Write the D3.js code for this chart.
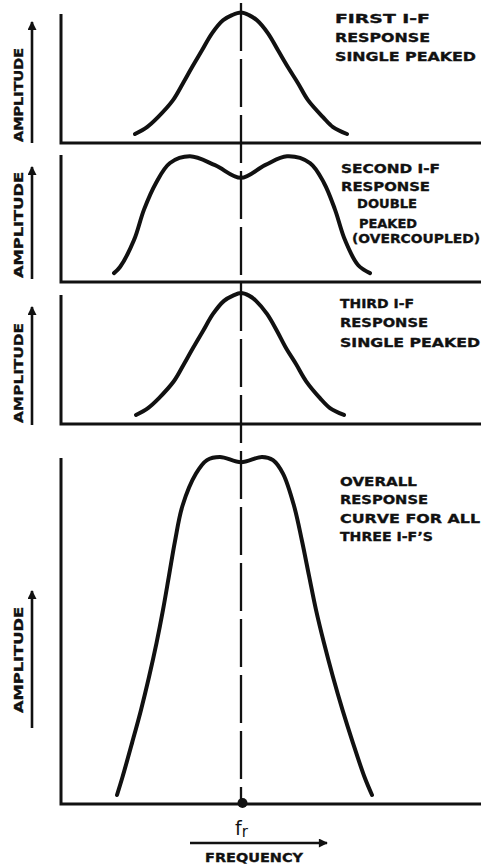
<!DOCTYPE html>
<html>
<head>
<meta charset="utf-8">
<script src="https://cdn.jsdelivr.net/npm/d3@7/dist/d3.min.js"></script>
<style>
  html, body { margin: 0; padding: 0; background: #fff; }
  svg { display: block; }
  text { font-family: "DejaVu Sans", sans-serif; font-weight: bold; fill: #111; }
</style>
</head>
<body>
<svg id="chart" width="482" height="868"></svg>
<script>
// ---- DATA (frequency offset from f_r, relative amplitude) ----
const freq1 = [-10.6, -9.4, -8.3, -6.8, -5.8, -4.9, -3.9, -2.9, -1.8, -0.9, 0, 0.8, 1.6, 2.7, 3.7, 4.7, 5.7, 6.7, 8.2, 9.2, 10.6];
const amp1  = [0.069, 0.122, 0.198, 0.328, 0.458, 0.58, 0.71, 0.84, 0.94, 0.98, 1.0, 0.98, 0.94, 0.84, 0.71, 0.58, 0.458, 0.328, 0.198, 0.122, 0.069];

const freq2 = [-12.7, -12.1, -10.7, -9.7, -8.5, -7.1, -5.1, -2.6, 0, 2.4, 4.6, 6.9, 8.3, 9.4, 10.4, 11.7, 12.9];
const amp2  = [0.07, 0.118, 0.33, 0.57, 0.78, 0.937, 0.99, 0.92, 0.82, 0.92, 0.99, 0.937, 0.78, 0.57, 0.33, 0.134, 0.07];

const freq3 = [-10.5, -9.3, -8.2, -6.7, -5.7, -4.8, -3.8, -2.8, -1.7, -0.8, 0, 0.8, 1.5, 2.6, 3.6, 4.5, 5.5, 6.5, 7.9, 8.9, 10.3];
const amp3  = [0.069, 0.122, 0.198, 0.328, 0.458, 0.58, 0.71, 0.84, 0.94, 0.98, 1.0, 0.98, 0.94, 0.84, 0.71, 0.58, 0.458, 0.328, 0.198, 0.122, 0.069];

const freq4 = [-12.4, -11.85, -10.9, -10.0, -9.2, -8.45, -7.8, -7.2, -6.6, -5.85, -4.5, -3.4, -2.1, 0, 2.1, 3.2, 4.2, 5.3, 6.1, 6.8, 7.5, 8.3, 9.2, 10.15, 11.2, 12.35, 13.1];
const amp4  = [0.026, 0.078, 0.176, 0.272, 0.367, 0.465, 0.561, 0.66, 0.76, 0.862, 0.955, 0.994, 1.003, 0.988, 1.003, 0.994, 0.955, 0.862, 0.76, 0.66, 0.561, 0.465, 0.367, 0.272, 0.176, 0.078, 0.026];

const titles = [
  ["FIRST I-F", "RESPONSE", "SINGLE PEAKED"],
  ["SECOND I-F", "RESPONSE", "DOUBLE", "PEAKED", "(OVERCOUPLED)"],
  ["THIRD I-F", "RESPONSE", "SINGLE PEAKED"],
  ["OVERALL", "RESPONSE", "CURVE FOR ALL", "THREE I-F\u2019S"]
];
const yAxisLabel = "AMPLITUDE";
const xAxisLabel = "FREQUENCY";
const centerLabel = ["f", "r"];
const freqDomain = [-18, 24];

// ---- LAYOUT ----
const layout = [
  { bottom: 143, top: 12.5, axisTop: 14,
    label: { y0: 142, len: 94 }, arrow: { y0: 143, y1: 22 },
    lines: [{x:335,y:23,w:95},{x:335,y:42,w:95},{x:335,y:61,w:141}] },
  { bottom: 282, top: 155, axisTop: 155,
    label: { y0: 278, len: 106 }, arrow: { y0: 279, y1: 167 },
    lines: [{x:341,y:173,w:99},{x:341,y:191,w:89},{x:357,y:208,w:60},{x:359,y:228,w:58},{x:352,y:243,w:128}] },
  { bottom: 424, top: 293, axisTop: 295,
    label: { y0: 423, len: 100 }, arrow: { y0: 425, y1: 307 },
    lines: [{x:340,y:308,w:74},{x:340,y:327,w:88},{x:340,y:347,w:140}] },
  { bottom: 804, top: 458, axisTop: 458,
    label: { y0: 713, len: 106 }, arrow: { y0: 728, y1: 591 },
    lines: [{x:340,y:486,w:77},{x:340,y:504,w:88},{x:340,y:523,w:140},{x:340,y:541,w:93}] }
];

const series = [
  { f: freq1, a: amp1 },
  { f: freq2, a: amp2 },
  { f: freq3, a: amp3 },
  { f: freq4, a: amp4 }
];

const svg = d3.select("#chart");
const x = d3.scaleLinear().domain(freqDomain).range([61, 481]);

const defs = svg.append("defs");
defs.append("marker")
  .attr("id", "ah").attr("viewBox", "0 0 10 10")
  .attr("refX", 9).attr("refY", 5)
  .attr("markerWidth", 14).attr("markerHeight", 9)
  .attr("markerUnits", "userSpaceOnUse")
  .attr("orient", "auto")
  .append("path").attr("d", "M0,0 L10,5 L0,10 Z").attr("fill", "#111");
defs.append("marker")
  .attr("id", "ahx").attr("viewBox", "0 0 10 10")
  .attr("refX", 9).attr("refY", 5)
  .attr("markerWidth", 17).attr("markerHeight", 9)
  .attr("markerUnits", "userSpaceOnUse")
  .attr("orient", "auto")
  .append("path").attr("d", "M0,0 L10,5 L0,10 Z").attr("fill", "#111");

// central dashed line at f_r
svg.append("line")
  .attr("x1", x(0)).attr("x2", x(0))
  .attr("y1", 3).attr("y2", 803)
  .attr("stroke", "#111").attr("stroke-width", 2.3)
  .attr("stroke-dasharray", "48,8");

layout.forEach((L, i) => {
  const y = d3.scaleLinear().domain([0, 1]).range([L.bottom, L.top]);
  const g = svg.append("g");

  // axes
  g.append("path")
    .attr("d", d3.line()([[x(freqDomain[0]), L.axisTop], [x(freqDomain[0]), y(0)], [x(freqDomain[1]), y(0)]]))
    .attr("fill", "none").attr("stroke", "#111").attr("stroke-width", 3)
    .attr("stroke-linejoin", "miter");

  // curve
  const pts = series[i].f.map((f, k) => [f, series[i].a[k]]);
  g.append("path")
    .datum(pts)
    .attr("d", d3.line().x(d => x(d[0])).y(d => y(d[1])).curve(d3.curveCatmullRom.alpha(0.5)))
    .attr("fill", "none").attr("stroke", "#111").attr("stroke-width", 4)
    .attr("stroke-linecap", "round").attr("stroke-linejoin", "round");

  // amplitude arrow
  g.append("line")
    .attr("x1", 32).attr("x2", 32)
    .attr("y1", L.arrow.y0).attr("y2", L.arrow.y1)
    .attr("stroke", "#111").attr("stroke-width", 2.6)
    .attr("marker-end", "url(#ah)");

  // amplitude label
  g.append("text")
    .attr("transform", `translate(22.5,${L.label.y0}) rotate(-90)`)
    .attr("font-size", 13)
    .attr("stroke", "#111").attr("stroke-width", 0.35)
    .attr("textLength", L.label.len).attr("lengthAdjust", "spacingAndGlyphs")
    .text(yAxisLabel);

  // title block
  titles[i].forEach((t, k) => {
    const ln = L.lines[k];
    g.append("text")
      .attr("x", ln.x).attr("y", ln.y)
      .attr("font-size", 13)
      .attr("stroke", "#111").attr("stroke-width", 0.35)
      .attr("textLength", ln.w).attr("lengthAdjust", "spacingAndGlyphs")
      .text(t);
  });
});

// f_r dot
svg.append("circle").attr("cx", x(0.15)).attr("cy", 803).attr("r", 5).attr("fill", "#111");

// f_r label
const fr = svg.append("text").attr("x", 235).attr("y", 835)
  .style("font-weight", "normal").attr("font-size", 19);
fr.append("tspan").text(centerLabel[0]);
fr.append("tspan").attr("font-size", 15).attr("dy", 2).text(centerLabel[1]);

// frequency arrow
svg.append("line")
  .attr("x1", 190).attr("x2", 327)
  .attr("y1", 843).attr("y2", 843)
  .attr("stroke", "#111").attr("stroke-width", 2.6)
  .attr("marker-end", "url(#ahx)");

svg.append("text")
  .attr("x", 205).attr("y", 862)
  .attr("font-size", 13)
  .attr("stroke", "#111").attr("stroke-width", 0.35)
  .attr("textLength", 98).attr("lengthAdjust", "spacingAndGlyphs")
  .text(xAxisLabel);
</script>
</body>
</html>
